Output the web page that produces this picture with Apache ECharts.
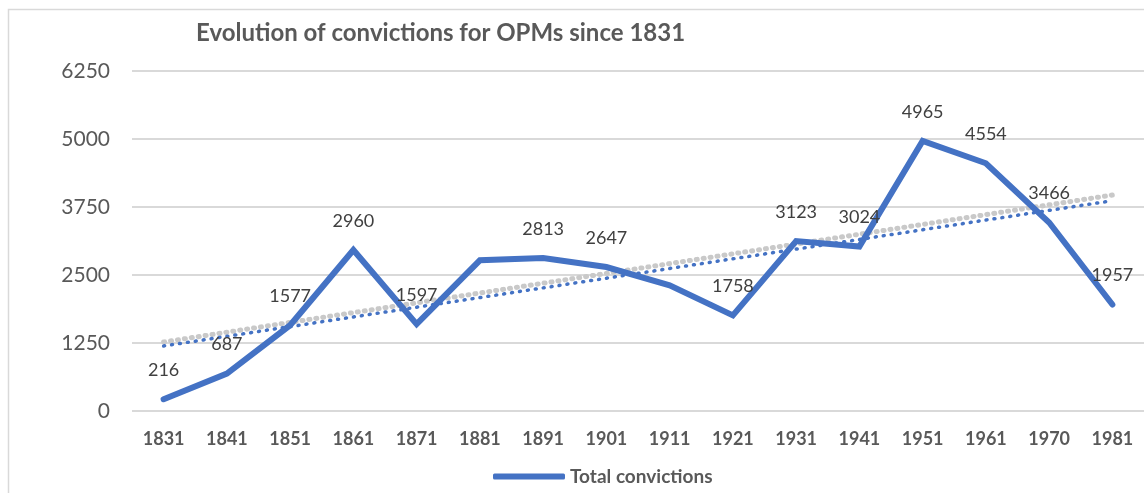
<!DOCTYPE html>
<html>
<head>
<meta charset="utf-8">
<style>
html, body { margin: 0; padding: 0; background: #fff; }
#chart { width: 1144px; height: 493px; }
</style>
<script src="https://cdn.jsdelivr.net/npm/echarts@6/dist/echarts.min.js"></script>
</head>
<body>
<div id="chart"></div>
<script>
// census years
var years = ['1831', '1841', '1851', '1861', '1871', '1881', '1891', '1901',
    '1911', '1921', '1931', '1941', '1951', '1961', '1970', '1981'];
// total convictions (1881 and 1911, no label in source)
var convictions = [216, 687, 1577, 2960, 1597, 2770, 2813, 2647,
    2310, 1758, 3123, 3024, 4965, 4554, 3466, 1957];
var unlabelled = ['1881', '1911'];
// trend lines, end points
var trendBlue = [1195, 3866];
var trendGrey = [1268, 3970];

var font = 'Lato, "Open Sans", sans-serif';

function trendData(ends) {
    var d = years.map(function () { return null; });
    d[0] = ends[0];
    d[d.length - 1] = ends[1];
    return d;
}

var chart = echarts.init(document.getElementById('chart'));
chart.setOption({
    animation: false,
    title: {
        text: 'Evolution of convictions for OPMs since 1831',
        left: 191,
        top: 16,
        textStyle: { fontFamily: font, fontSize: 24, fontWeight: 'bold', color: '#595959' }
    },
    graphic: [{
        type: 'rect',
        shape: { x: 8.5, y: 9.5, width: 1200, height: 600 },
        style: { fill: 'none', stroke: '#d9d9d9', lineWidth: 1.5 },
        silent: true
    }],
    legend: {
        data: ['Total convictions'],
        bottom: 2,
        left: 488,
        icon: 'roundRect',
        itemWidth: 72,
        itemHeight: 6,
        itemGap: 6,
        textStyle: { fontFamily: font, fontSize: 19, fontWeight: 'bold', color: '#595959' }
    },
    grid: { left: 132, right: 0, top: 71, bottom: 82 },
    xAxis: {
        type: 'category',
        data: years,
        axisLine: { show: false },
        axisTick: { show: false },
        axisLabel: { fontFamily: font, fontSize: 18, fontWeight: 'bold', color: '#595959', margin: 19 }
    },
    yAxis: {
        type: 'value',
        min: 0,
        max: 6250,
        interval: 1250,
        axisLabel: {
            fontFamily: font, fontSize: 21, color: '#595959', margin: 22,
            formatter: function (v) { return String(v); }
        },
        splitLine: { lineStyle: { color: '#d9d9d9', width: 2 } }
    },
    series: [{
        name: 'Grey trend',
        type: 'line',
        data: trendData(trendGrey),
        connectNulls: true,
        symbol: 'none',
        lineStyle: { color: '#c9c9c9', width: 5, type: [1, 6], cap: 'round' },
        z: 1
    }, {
        name: 'Linear trend',
        type: 'line',
        data: trendData(trendBlue),
        connectNulls: true,
        symbol: 'none',
        lineStyle: { color: '#4472c4', width: 3.5, type: [1, 7], cap: 'round' },
        z: 2
    }, {
        name: 'Total convictions',
        type: 'line',
        data: convictions.map(function (v, i) {
            return { value: v, label: { show: unlabelled.indexOf(years[i]) < 0 } };
        }),
        symbol: 'circle',
        symbolSize: 2,
        showSymbol: true,
        color: '#4472c4',
        itemStyle: { color: '#4472c4' },
        lineStyle: { color: '#4472c4', width: 6, cap: 'round', join: 'miter' },
        label: {
            show: true,
            position: 'top',
            distance: 19,
            fontFamily: font,
            fontSize: 18,
            color: '#404040'
        },
        labelLayout: { hideOverlap: false },
        z: 3
    }]
});
</script>
</body>
</html>
